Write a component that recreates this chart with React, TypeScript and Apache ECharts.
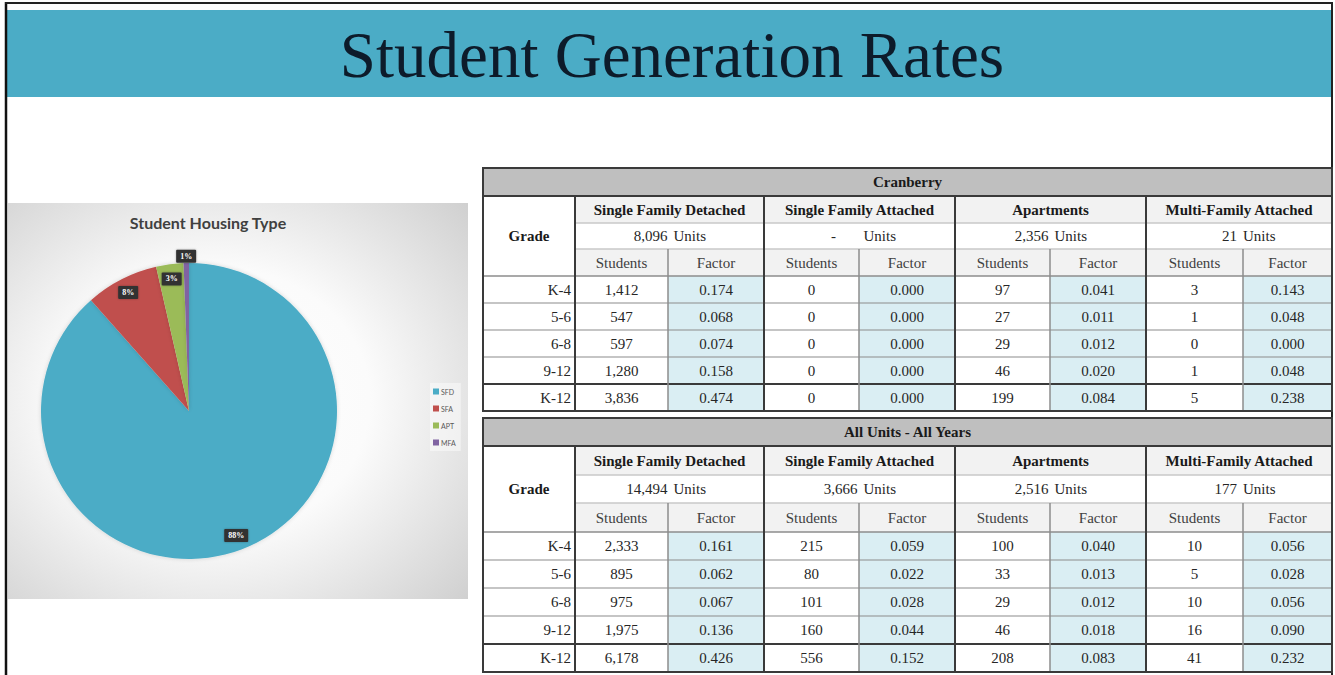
import React, { useEffect, useRef } from 'react';
import * as echarts from 'echarts';

const W = 1335;
const H = 675;

// ---------------- data ----------------
const slideTitle = 'Student Generation Rates';
const pieTitle = 'Student Housing Type';
const pieCategories = ['SFD', 'SFA', 'APT', 'MFA'];
const pieColors = ['#4bacc6', '#c0504d', '#9bbb59', '#8064a2'];
// K-12 students, all units - all years (88% / 8% / 3% / 1%)
const pieValues = [6178, 556, 208, 41];

const housingTypes = ['Single Family Detached', 'Single Family Attached', 'Apartments', 'Multi-Family Attached'];
const grades = ['K-4', '5-6', '6-8', '9-12', 'K-12'];

const cranberryTitle = 'Cranberry';
const cranberryUnits = ['8,096', '-', '2,356', '21'];
const cranberrySFDStudents = [1412, 547, 597, 1280, 3836];
const cranberrySFDFactor = [0.174, 0.068, 0.074, 0.158, 0.474];
const cranberrySFAStudents = [0, 0, 0, 0, 0];
const cranberrySFAFactor = [0.0, 0.0, 0.0, 0.0, 0.0];
const cranberryAPTStudents = [97, 27, 29, 46, 199];
const cranberryAPTFactor = [0.041, 0.011, 0.012, 0.02, 0.084];
const cranberryMFAStudents = [3, 1, 0, 1, 5];
const cranberryMFAFactor = [0.143, 0.048, 0.0, 0.048, 0.238];

const allTitle = 'All Units - All Years';
const allUnits = ['14,494', '3,666', '2,516', '177'];
const allSFDStudents = [2333, 895, 975, 1975, 6178];
const allSFDFactor = [0.161, 0.062, 0.067, 0.136, 0.426];
const allSFAStudents = [215, 80, 101, 160, 556];
const allSFAFactor = [0.059, 0.022, 0.028, 0.044, 0.152];
const allAPTStudents = [100, 33, 29, 46, 208];
const allAPTFactor = [0.04, 0.013, 0.012, 0.018, 0.083];
const allMFAStudents = [10, 5, 10, 16, 41];
const allMFAFactor = [0.056, 0.028, 0.056, 0.09, 0.232];

// ---------------- layout ----------------
const SERIF = "'Liberation Serif', 'Times New Roman', serif";
const SANS = "Lato, 'Open Sans', sans-serif";
const colX = [483, 575, 668, 764, 859, 955, 1050, 1146, 1243, 1332];
const table1Rows = [168, 196, 223, 249, 276, 303, 330, 357, 384, 411];
const table2Rows = [418, 446, 475, 503, 532, 560, 588, 616, 644, 672];

function txt(x: number, y: number, text: string, opts: any = {}) {
  const align = opts.align || 'center';
  return {
    type: 'text',
    x,
    y,
    z: 10,
    silent: true,
    style: {
      text,
      fill: opts.fill || '#262626',
      fontSize: opts.size || 15,
      fontFamily: opts.family || SERIF,
      fontWeight: opts.weight || 'normal',
      align,
      textAlign: align,
      verticalAlign: 'middle',
      textVerticalAlign: 'middle',
    },
  };
}

function rect(x: number, y: number, w: number, h: number, fill: string, z = 1) {
  return { type: 'rect', z, silent: true, shape: { x, y, width: w, height: h }, style: { fill } };
}

function line(x1: number, y1: number, x2: number, y2: number, stroke: string, lineWidth: number) {
  return {
    type: 'line',
    z: 5,
    silent: true,
    shape: { x1, y1, x2, y2 },
    style: { stroke, lineWidth },
  };
}

function buildTable(
  title: string,
  units: string[],
  students: number[][],
  factors: number[][],
  rows: number[]
) {
  const els: any[] = [];
  const left = colX[0];
  const right = colX[colX.length - 1];
  const width = right - left;
  const mid = (a: number, b: number) => (a + b) / 2;
  // fills
  els.push(rect(left, rows[0], width, rows[1] - rows[0], '#bfbfbf'));
  els.push(rect(left, rows[1], colX[1] - left, rows[4] - rows[1], '#ffffff'));
  els.push(rect(colX[1], rows[1], right - colX[1], rows[2] - rows[1], '#f2f2f2'));
  els.push(rect(colX[1], rows[2], right - colX[1], rows[3] - rows[2], '#ffffff'));
  els.push(rect(colX[1], rows[3], right - colX[1], rows[4] - rows[3], '#f2f2f2'));
  els.push(rect(left, rows[4], width, rows[9] - rows[4], '#ffffff'));
  for (let g = 0; g < 4; g++) {
    const fx = colX[2 + 2 * g];
    const fx2 = colX[3 + 2 * g];
    els.push(rect(fx, rows[4], fx2 - fx, rows[9] - rows[4], '#daeef3'));
  }
  // lines
  els.push(line(colX[1], rows[2], right, rows[2], '#c8c8c8', 1.5));
  els.push(line(colX[1], rows[3], right, rows[3], '#c8c8c8', 1.5));
  els.push(line(left, rows[4], right, rows[4], '#8c8c8c', 1.5));
  for (let r = 5; r < 8; r++) els.push(line(left, rows[r], right, rows[r], '#8c8c8c', 1.2));
  els.push(line(left, rows[8], right, rows[8], '#3a3a3a', 2));
  for (let g = 0; g < 4; g++) {
    els.push(line(colX[2 + 2 * g], rows[3], colX[2 + 2 * g], rows[9], '#8c8c8c', 1.5));
  }
  for (let g = 0; g < 4; g++) {
    els.push(line(colX[1 + 2 * g], rows[1], colX[1 + 2 * g], rows[9], '#3a3a3a', 2));
  }
  els.push(line(left, rows[1], right, rows[1], '#3a3a3a', 2));
  els.push({
    type: 'rect',
    z: 6,
    silent: true,
    shape: { x: left, y: rows[0], width, height: rows[9] - rows[0] },
    style: { fill: 'none', stroke: '#3a3a3a', lineWidth: 2 },
  });
  // texts
  els.push(txt(mid(left, right), mid(rows[0], rows[1]), title, { weight: 'bold', fill: '#1a1a1a' }));
  els.push(txt(mid(left, colX[1]), mid(rows[1], rows[4]), 'Grade', { weight: 'bold', fill: '#1a1a1a' }));
  for (let g = 0; g < 4; g++) {
    const a = colX[1 + 2 * g];
    const b = colX[3 + 2 * g];
    const c = mid(a, b);
    els.push(txt(c, mid(rows[1], rows[2]), housingTypes[g], { weight: 'bold', fill: '#1a1a1a' }));
    const yB = mid(rows[2], rows[3]);
    if (units[g] === '-') {
      els.push(txt(c - 26, yB, units[g], { fill: '#262626' }));
    } else {
      els.push(txt(c - 2, yB, units[g], { align: 'right' }));
    }
    els.push(txt(c + 4, yB, 'Units', { align: 'left' }));
    els.push(txt(mid(a, colX[2 + 2 * g]), mid(rows[3], rows[4]), 'Students', { fill: '#404040', size: 15 }));
    els.push(txt(mid(colX[2 + 2 * g], b), mid(rows[3], rows[4]), 'Factor', { fill: '#404040', size: 15 }));
    for (let r = 0; r < grades.length; r++) {
      const y = mid(rows[4 + r], rows[5 + r]);
      els.push(txt(mid(a, colX[2 + 2 * g]), y, students[g][r].toLocaleString('en-US')));
      els.push(txt(mid(colX[2 + 2 * g], b), y, factors[g][r].toFixed(3)));
    }
  }
  for (let r = 0; r < grades.length; r++) {
    const y = mid(rows[4 + r], rows[5 + r]);
    els.push(txt(colX[1] - 4, y, grades[r], { align: 'right' }));
  }
  return els;
}

export default function App() {
  const ref = useRef<HTMLDivElement>(null);
  useEffect(() => {
    document.body.style.margin = '0';
    if (!ref.current) return;
    const chart = echarts.init(ref.current, undefined, { renderer: 'svg' });

    const pieData = pieCategories.map((name, i) => ({
      name,
      value: pieValues[i],
      itemStyle: { color: pieColors[i] },
    }));

    const labelStyle = {
      show: true,
      position: 'inside',
      formatter: '{d}%',
      color: '#ffffff',
      fontSize: 8,
      fontWeight: 'bold',
      fontFamily: SERIF,
      backgroundColor: '#333333',
      padding: [3, 4, 2, 4],
      borderRadius: 1,
      shadowBlur: 2,
      shadowColor: 'rgba(0,0,0,0.3)',
    };

    const center = [189, 411];
    const R = 148;

    const graphic: any[] = [
      // slide frame
      line(6, 2, 6, H, '#111111', 2.5),
      line(5, 3, 1333, 3, '#222222', 2),
      line(1332, 2, 1332, H, '#222222', 2),
      // banner
      rect(7, 10, 1324, 87, '#4bacc6', 1),
      txt(672, 55, slideTitle, { size: 65, fill: '#0d1b2a', family: SERIF }),
      // pie chart panel
      {
        type: 'rect',
        z: 0,
        silent: true,
        shape: { x: 8, y: 203, width: 460, height: 396 },
        style: {
          fill: new echarts.graphic.RadialGradient(0.45, 0.5, 0.75, [
            { offset: 0, color: '#ffffff' },
            { offset: 0.45, color: '#fbfbfb' },
            { offset: 1, color: '#cfcfcf' },
          ]),
        },
      },
      txt(208, 222, pieTitle, { size: 16, weight: 'bold', family: SANS, fill: '#404040' }),
      ...buildTable(
        cranberryTitle,
        cranberryUnits,
        [cranberrySFDStudents, cranberrySFAStudents, cranberryAPTStudents, cranberryMFAStudents],
        [cranberrySFDFactor, cranberrySFAFactor, cranberryAPTFactor, cranberryMFAFactor],
        table1Rows
      ),
      ...buildTable(
        allTitle,
        allUnits,
        [allSFDStudents, allSFAStudents, allAPTStudents, allMFAStudents],
        [allSFDFactor, allSFAFactor, allAPTFactor, allMFAFactor],
        table2Rows
      ),
    ];

    chart.setOption({
      animation: false,
      backgroundColor: '#ffffff',
      graphic,
      legend: {
        orient: 'vertical',
        left: 430,
        top: 383,
        icon: 'rect',
        itemWidth: 6,
        itemHeight: 6,
        itemGap: 8,
        padding: [4, 5, 4, 3],
        backgroundColor: 'rgba(255,255,255,0.45)',
        selectedMode: false,
        textStyle: { fontSize: 7, color: '#595959', fontFamily: SANS, lineHeight: 9, padding: [0, 0, 0, -3] },
        data: pieCategories.map((name, i) => ({ name, itemStyle: { color: pieColors[i] } })),
      },
      series: [
        {
          type: 'pie',
          name: 'Student Housing Type',
          center,
          radius: R,
          startAngle: 90,
          clockwise: true,
          silent: true,
          z: 2,
          percentPrecision: 0,
          label: { show: false },
          labelLine: { show: false },
          emphasis: { disabled: true },
          itemStyle: { shadowBlur: 4, shadowColor: 'rgba(0,0,0,0.15)' },
          data: pieData,
        },
        {
          type: 'pie',
          name: 'labels',
          center,
          radius: [R * 0.76, R],
          startAngle: 90,
          clockwise: true,
          silent: true,
          z: 3,
          percentPrecision: 0,
          avoidLabelOverlap: false,
          itemStyle: { color: 'rgba(0,0,0,0)' },
          emphasis: { disabled: true },
          labelLine: { show: false },
          label: labelStyle,
          data: pieCategories.map((name, i) => ({
            name,
            value: pieValues[i],
            itemStyle: { color: 'rgba(0,0,0,0)' },
            label: { show: name !== 'MFA' },
          })),
        },
        {
          type: 'pie',
          name: 'labels-outer',
          center,
          radius: [R * 0.95, R * 1.1],
          startAngle: 90,
          clockwise: true,
          silent: true,
          z: 3,
          percentPrecision: 0,
          avoidLabelOverlap: false,
          itemStyle: { color: 'rgba(0,0,0,0)' },
          emphasis: { disabled: true },
          labelLine: { show: false },
          label: labelStyle,
          data: pieCategories.map((name, i) => ({
            name,
            value: pieValues[i],
            itemStyle: { color: 'rgba(0,0,0,0)' },
            label: { show: name === 'MFA' },
          })),
        },
      ],
    });
    return () => chart.dispose();
  }, []);
  return <div ref={ref} style={{ width: W, height: H }} />;
}
